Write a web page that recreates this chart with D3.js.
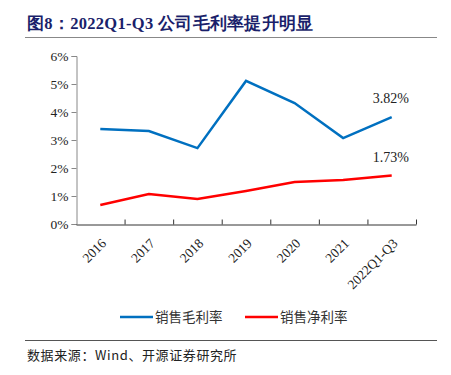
<!DOCTYPE html>
<html>
<head>
<meta charset="utf-8">
<script src="https://cdn.jsdelivr.net/npm/d3@7"></script>
<style>
  body { margin: 0; background: #fff; }
  svg { display: block; }
</style>
</head>
<body>
<div class="chart"></div>
<script>
// data
const years = ['2016', '2017', '2018', '2019', '2020', '2021', '2022Q1-Q3'];
const grossMargin = [3.39, 3.32, 2.71, 5.11, 4.32, 3.07, 3.82];
const netMargin = [0.68, 1.07, 0.89, 1.18, 1.50, 1.57, 1.73];
const yTicks = [0, 1, 2, 3, 4, 5, 6];
const seriesNames = ['销售毛利率', '销售净利率'];

const width = 451;
const height = 375;
const serif = '"Liberation Serif", "Times New Roman", serif';
const cjk = '"Noto Sans CJK SC", sans-serif';

const svg = d3.select('.chart')
  .append('svg')
  .attr('width', width)
  .attr('height', height);

// title
svg.append('text')
  .attr('x', 27)
  .attr('y', 29)
  .attr('font-family', serif)
  .attr('font-weight', 'bold')
  .attr('font-size', 16.5)
  .attr('letter-spacing', 0.3)
  .attr('fill', '#1a1f6b')
  .text('图8：2022Q1-Q3 公司毛利率提升明显');

svg.append('line')
  .attr('x1', 25).attr('x2', 437)
  .attr('y1', 37.5).attr('y2', 37.5)
  .attr('stroke', '#888').attr('stroke-width', 1.2);

const x = d3.scaleBand().domain(years).range([76, 416]);
const y = d3.scaleLinear().domain([0, 6]).range([224, 56]);
const cx = d => x(d) + x.bandwidth() / 2;

// y axis
const yAxis = svg.append('g')
  .attr('transform', 'translate(76.5,0)')
  .call(d3.axisLeft(y).tickValues(yTicks).tickFormat(d => d + '%').tickSizeOuter(0).tickSize(5).tickPadding(3));
yAxis.select('.domain').attr('stroke', '#888');
yAxis.selectAll('.tick line').attr('stroke', '#888');
yAxis.selectAll('text')
  .attr('font-family', serif)
  .attr('font-size', 13.5)
  .attr('fill', '#222');

// x axis
const xAxis = svg.append('g')
  .attr('transform', 'translate(0,224.5)')
  .call(d3.axisBottom(x).tickSizeOuter(0).tickSize(0));
xAxis.select('.domain').attr('stroke', '#333');
xAxis.selectAll('.tick line').remove();
// tick marks at band edges
svg.append('g')
  .selectAll('line')
  .data(years)
  .enter()
  .append('line')
  .attr('x1', d => x(d) + x.bandwidth() + 0.5)
  .attr('x2', d => x(d) + x.bandwidth() + 0.5)
  .attr('y1', 219.5)
  .attr('y2', 224.5)
  .attr('stroke', '#333');
xAxis.selectAll('text')
  .attr('font-family', serif)
  .attr('font-size', 13.5)
  .attr('fill', '#222')
  .attr('text-anchor', 'end')
  .attr('transform', 'translate(-2,11) rotate(-45)')
  .attr('dy', '0.7em');

// lines
const line = d3.line()
  .x((d, i) => cx(years[i]))
  .y(d => y(d));

svg.append('path')
  .datum(grossMargin)
  .attr('d', line)
  .attr('fill', 'none')
  .attr('stroke', '#0070c0')
  .attr('stroke-width', 2.5);

svg.append('path')
  .datum(netMargin)
  .attr('d', line)
  .attr('fill', 'none')
  .attr('stroke', '#ff0000')
  .attr('stroke-width', 2.5);

// end labels
const last = years.length - 1;
svg.append('text')
  .attr('x', cx(years[last]) - 19)
  .attr('y', y(grossMargin[last]) - 14)
  .attr('font-family', serif)
  .attr('font-size', 14)
  .attr('fill', '#222')
  .text(grossMargin[last].toFixed(2) + '%');
svg.append('text')
  .attr('x', cx(years[last]) - 19)
  .attr('y', y(netMargin[last]) - 14)
  .attr('font-family', serif)
  .attr('font-size', 14)
  .attr('fill', '#222')
  .text(netMargin[last].toFixed(2) + '%');

// legend
const legendColors = ['#0070c0', '#ff0000'];
const legend = svg.append('g')
  .selectAll('g')
  .data(seriesNames)
  .enter()
  .append('g')
  .attr('transform', (d, i) => `translate(${120 + i * 125},317)`);
legend.append('line')
  .attr('x1', 0).attr('x2', 33)
  .attr('stroke', (d, i) => legendColors[i])
  .attr('stroke-width', 2.5);
legend.append('text')
  .attr('x', 35)
  .attr('y', 5)
  .attr('font-family', cjk)
  .attr('font-size', 13.5)
  .attr('fill', '#333')
  .text(d => d);

// footer
svg.append('line')
  .attr('x1', 25).attr('x2', 437)
  .attr('y1', 340.5).attr('y2', 340.5)
  .attr('stroke', '#555').attr('stroke-width', 1);
svg.append('text')
  .attr('x', 27)
  .attr('y', 360)
  .attr('font-family', '"Noto Sans CJK SC", "Liberation Serif", serif')
  .attr('font-size', 13)
  .attr('letter-spacing', 0.6)
  .attr('fill', '#222')
  .text('数据来源：Wind、开源证券研究所');
</script>
</body>
</html>
